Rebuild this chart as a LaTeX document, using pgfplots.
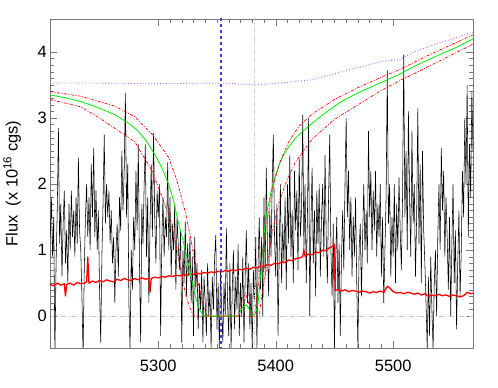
\documentclass[border=0pt]{standalone}
\usepackage{fontspec}
\setmainfont{Liberation Sans}
\usepackage{pgfplots}
\pgfplotsset{compat=1.18}

\definecolor{modgreen}{RGB}{0,240,0}
\definecolor{errred}{RGB}{255,0,0}
\definecolor{contpurple}{RGB}{175,100,255}
\definecolor{framegray}{RGB}{120,120,120}
\definecolor{refblue}{RGB}{60,60,255}

\begin{document}
\begin{tikzpicture}
\begin{axis}[
  scale only axis, width=423bp, height=329bp,
  xmin=5208, xmax=5568, ymin=-0.48, ymax=4.5,
  xtick={5300,5400,5500}, ytick={0,1,2,3,4},
  minor x tick num=9, minor y tick num=9,
  tick align=inside, major tick length=7bp, minor tick length=4bp,
  axis line style={framegray}, every tick/.style={framegray},
  tick label style={font=\fontsize{16.5}{18}\selectfont},
  xticklabel style={yshift=-9bp},
  /pgf/number format/assume math mode=true,
  /pgf/number format/1000 sep={},
  ylabel={Flux\ \ (x 10\textsuperscript{16} cgs)},
  ylabel style={font=\fontsize{16.5}{18}\selectfont, at={(axis description cs:-0.09,0.5)}, anchor=center},
]
% zero level
\addplot[gray!45, dash pattern=on 5pt off 2pt on 1pt off 2pt, line width=0.5pt] coordinates {(5200,0) (5580,0)};

% observed spectrum
\addplot[black, line width=0.55pt] coordinates {
(5208,1.2)(5209,1.8)(5210,0.9)(5211,1.5)(5212,-0.6)(5213,0.8)(5214,1.6)(5215,2.85)(5216,1.1)(5217,1.7)
(5218,0.6)(5219,1.4)(5220,1.9)(5221,0.8)(5222,1.3)(5223,0.5)(5224,1.7)(5225,1.0)(5226,1.9)(5227,1.2)
(5228,1.6)(5229,0.9)(5230,1.8)(5231,1.1)(5232,2.4)(5233,1.3)(5234,1.0)(5235,0.3)(5236,-0.6)(5237,0.7)
(5238,1.5)(5239,2.0)(5240,1.2)(5241,1.8)(5242,1.0)(5243,2.3)(5244,1.5)(5245,2.55)(5246,1.2)(5247,1.9)
(5248,1.0)(5249,1.6)(5250,0.4)(5251,-0.4)(5252,0.9)(5253,1.7)(5254,2.75)(5255,1.4)(5256,2.0)(5257,1.5)
(5258,1.9)(5259,1.1)(5260,1.6)(5261,0.8)(5262,1.2)(5263,0.2)(5264,1.0)(5265,1.4)(5266,0.6)(5267,1.8)
(5268,1.3)(5269,2.5)(5270,1.6)(5271,2.2)(5272,3.38)(5273,1.5)(5274,2.3)(5275,0.2)(5276,-0.5)(5277,1.0)
(5278,0.4)(5279,1.5)(5280,1.0)(5281,2.2)(5282,1.3)(5283,2.6)(5284,0.8)(5285,-0.4)(5286,1.7)(5287,1.1)
(5288,2.0)(5289,2.6)(5290,0.9)(5291,1.8)(5292,0.2)(5293,1.4)(5294,2.3)(5295,1.2)(5296,2.78)(5297,1.5)
(5298,0.8)(5299,1.9)(5300,1.5)(5301,2.0)(5302,-0.3)(5303,1.1)(5304,1.8)(5305,0.9)(5306,1.5)(5307,1.2)
(5308,2.33)(5309,1.0)(5310,1.8)(5311,0.6)(5312,1.4)(5313,1.0)(5314,1.7)(5315,0.4)(5316,1.5)(5317,1.1)
(5318,0.7)(5319,1.3)(5320,-0.4)(5321,1.0)(5322,0.5)(5323,1.43)(5324,0.3)(5325,1.1)(5326,0.6)(5327,1.2)
(5328,0.2)(5329,0.9)(5330,-0.3)(5331,1.2)(5332,0.4)(5333,0.8)(5334,-0.2)(5335,0.5)(5336,0.1)(5337,0.7)
(5338,-0.4)(5339,0.6)(5340,0.2)(5341,-0.3)(5342,0.8)(5343,0.0)(5344,0.4)(5345,-0.5)(5346,0.6)(5347,0.1)
(5348,0.9)(5349,1.23)(5350,-0.2)(5351,0.5)(5352,-0.5)(5353,0.7)(5354,0.1)(5355,-0.4)(5356,0.5)(5357,0.0)
(5358,1.33)(5359,0.2)(5360,-0.3)(5361,0.8)(5362,-0.5)(5363,0.4)(5364,1.0)(5365,-0.2)(5366,0.6)(5367,0.1)
(5368,1.1)(5369,-0.3)(5370,0.5)(5371,0.0)(5372,0.9)(5373,-0.4)(5374,0.6)(5375,1.3)(5376,0.2)(5377,0.8)
(5378,-0.2)(5379,0.5)(5380,-0.5)(5381,0.7)(5382,0.2)(5383,1.2)(5384,-0.5)(5385,0.8)(5386,1.49)(5387,0.4)
(5388,1.2)(5389,0.0)(5390,1.8)(5391,0.6)(5392,2.25)(5393,1.0)(5394,0.3)(5395,1.6)(5396,0.9)(5397,2.0)
(5398,2.75)(5399,1.2)(5400,0.6)(5401,1.7)(5402,-0.3)(5403,1.0)(5404,2.0)(5405,0.5)(5406,1.4)(5407,0.8)
(5408,1.8)(5409,0.4)(5410,2.0)(5411,1.1)(5412,2.44)(5413,0.9)(5414,1.6)(5415,0.5)(5416,2.2)(5417,1.3)
(5418,1.9)(5419,0.7)(5420,2.4)(5421,1.2)(5422,1.6)(5423,3.05)(5424,1.0)(5425,2.0)(5426,0.5)(5427,1.5)
(5428,3.0)(5429,0.0)(5430,1.4)(5431,2.25)(5432,0.8)(5433,1.6)(5434,0.3)(5435,1.9)(5436,1.1)(5437,2.0)
(5438,0.6)(5439,1.5)(5440,2.0)(5441,0.9)(5442,2.44)(5443,1.2)(5444,0.5)(5445,1.8)(5446,2.75)(5447,1.0)
(5448,0.3)(5449,1.4)(5450,-0.5)(5451,0.8)(5452,1.5)(5453,0.2)(5454,1.1)(5455,-0.3)(5456,0.9)(5457,1.6)
(5458,0.7)(5459,2.0)(5460,3.0)(5461,1.5)(5462,2.2)(5463,1.0)(5464,1.8)(5465,0.6)(5466,1.5)(5467,0.9)
(5468,1.8)(5469,0.5)(5470,-0.5)(5471,1.0)(5472,1.4)(5473,0.3)(5474,1.2)(5475,2.0)(5476,1.0)(5477,1.6)
(5478,0.8)(5479,2.8)(5480,1.5)(5481,2.2)(5482,1.0)(5483,1.9)(5484,1.3)(5485,2.2)(5486,0.9)(5487,1.7)
(5488,1.2)(5489,2.0)(5490,0.6)(5491,1.5)(5492,0.2)(5493,1.0)(5494,1.8)(5495,3.72)(5496,1.4)(5497,2.0)
(5498,0.6)(5499,1.5)(5500,0.9)(5501,2.0)(5502,0.5)(5503,1.7)(5504,1.0)(5505,2.1)(5506,1.3)(5507,0.7)
(5508,1.8)(5509,3.96)(5510,1.5)(5511,2.5)(5512,1.0)(5513,3.1)(5514,1.8)(5515,0.9)(5516,2.8)(5517,1.4)
(5518,2.0)(5519,0.6)(5520,1.5)(5521,3.15)(5522,1.1)(5523,2.3)(5524,0.5)(5525,2.5)(5526,1.3)(5527,0.8)
(5528,0.2)(5529,-0.5)(5530,0.6)(5531,-0.3)(5532,0.9)(5533,0.1)(5534,-0.5)(5535,0.5)(5536,1.0)(5537,0.0)
(5538,1.2)(5539,2.0)(5540,1.0)(5541,2.55)(5542,1.6)(5543,2.2)(5544,0.9)(5545,1.8)(5546,1.2)(5547,0.4)
(5548,1.5)(5549,0.0)(5550,1.1)(5551,2.0)(5552,0.5)(5553,1.3)(5554,-0.2)(5555,0.8)(5556,1.6)(5557,0.3)
(5558,1.0)(5559,2.2)(5560,1.5)(5561,3.0)(5562,2.0)(5563,3.5)(5564,1.2)(5565,2.6)(5566,1.8)(5567,3.4)
(5568,2.5)
};

% error spectrum
\addplot[errred, line width=1.3pt] coordinates {
(5208,0.48)(5211,0.46)(5214,0.50)(5217,0.47)(5220,0.49)(5221,0.30)(5222,0.48)(5225,0.50)(5228,0.47)(5231,0.51)
(5234,0.49)(5237,0.50)(5239,0.52)(5240,0.90)(5241,0.50)(5244,0.53)(5247,0.51)(5250,0.54)(5253,0.52)(5256,0.55)
(5259,0.53)(5262,0.52)(5265,0.56)(5268,0.54)(5271,0.57)(5274,0.55)(5277,0.54)(5280,0.57)(5283,0.55)(5286,0.58)
(5289,0.56)(5292,0.57)(5293,0.36)(5294,0.57)(5297,0.59)(5300,0.58)(5303,0.60)(5306,0.59)(5309,0.61)(5312,0.60)
(5315,0.62)(5318,0.61)(5321,0.63)(5324,0.62)(5327,0.64)(5330,0.63)(5333,0.65)(5336,0.64)(5339,0.66)(5342,0.65)
(5345,0.67)(5348,0.66)(5351,0.68)(5354,0.67)(5357,0.69)(5360,0.68)(5363,0.70)(5366,0.69)(5369,0.71)(5372,0.70)
(5375,0.73)(5378,0.71)(5381,0.74)(5384,0.73)(5387,0.76)(5390,0.75)(5393,0.78)(5396,0.77)(5399,0.80)(5402,0.79)
(5405,0.82)(5408,0.81)(5411,0.85)(5414,0.84)(5417,0.87)(5420,0.88)(5423,0.90)(5424,1.00)(5425,0.91)(5428,0.94)
(5431,0.93)(5434,0.97)(5437,0.96)(5440,1.00)(5443,0.99)(5446,1.04)(5449,1.06)(5450,1.08)(5450.5,0.39)(5453,0.40)
(5456,0.38)(5459,0.40)(5462,0.37)(5465,0.39)(5468,0.38)(5471,0.36)(5474,0.38)(5477,0.37)(5480,0.35)(5483,0.37)
(5486,0.36)(5489,0.38)(5492,0.36)(5495,0.45)(5497,0.43)(5500,0.37)(5503,0.35)(5506,0.36)(5509,0.34)(5512,0.36)
(5515,0.35)(5518,0.33)(5521,0.35)(5524,0.32)(5527,0.34)(5530,0.30)(5533,0.32)(5536,0.31)(5539,0.33)(5542,0.31)
(5545,0.32)(5548,0.30)(5551,0.32)(5554,0.31)(5557,0.29)(5560,0.31)(5563,0.36)(5566,0.34)(5568,0.35)
};

% continuum (dotted)
\addplot[contpurple, dotted, line width=0.9pt] coordinates {
(5208,3.53)(5250,3.53)(5300,3.52)(5354,3.53)(5383,3.50)(5410,3.54)(5431,3.58)(5460,3.72)(5491,3.86)(5505,3.88)(5520,4.02)(5545,4.17)(5568,4.30)
};

% model
\addplot[modgreen, line width=0.8pt] coordinates {
(5208,3.35)(5220,3.31)(5234,3.25)(5250,3.15)(5263,3.05)(5275,2.92)(5283,2.8)(5290,2.65)(5297,2.45)(5303,2.25)
(5309,1.99)(5313,1.75)(5317,1.43)(5320,1.22)(5323,1.0)(5326,0.76)(5329,0.5)(5332,0.27)(5335,0.1)(5338,0.02)
(5340,0)(5368,0)(5370,0.08)(5372,0.14)(5375,0.17)(5377,0.12)(5379,0.03)(5380,0)(5383,0.05)(5385,0.2)
(5387,0.6)(5389,1.0)(5391,1.4)(5393,1.62)(5396,1.88)(5399,2.08)(5403,2.3)(5407,2.45)(5411,2.56)(5417,2.7)
(5423,2.8)(5431,2.92)(5440,3.05)(5456,3.25)(5470,3.38)(5485,3.5)(5505,3.66)(5520,3.8)(5537,3.94)(5555,4.08)(5568,4.2)
};

% model bounds
\addplot[errred, line width=0.7pt, dash pattern=on 3pt off 1.5pt on 1pt off 1.5pt] coordinates {
(5208,3.40)(5234,3.33)(5263,3.18)(5280,3.02)(5295,2.75)(5309,2.4)(5316,2.05)(5323,1.58)(5328,1.15)(5331,0.82)
(5334,0.5)(5337,0.27)(5340,0.06)(5342,0)(5368,0)(5371,0.2)(5374,0.35)(5377,0.2)(5379,0)(5382,0)
(5384,0.3)(5387,0.75)(5391,1.23)(5397,1.94)(5404,2.35)(5411,2.64)(5420,2.88)(5431,3.06)(5450,3.28)(5470,3.46)
(5490,3.62)(5505,3.73)(5530,3.95)(5568,4.26)
};
\addplot[errred, line width=0.7pt, dash pattern=on 3pt off 1.5pt on 1pt off 1.5pt] coordinates {
(5208,3.28)(5234,3.17)(5250,3.0)(5265,2.82)(5280,2.64)(5295,2.19)(5309,1.53)(5315,1.1)(5320,0.62)(5323,0.35)
(5326,0.17)(5329,0.04)(5331,0)(5386,0)(5388,0.3)(5391,0.6)(5394,0.93)(5398,1.35)(5403,1.73)(5410,2.08)
(5417,2.34)(5431,2.68)(5450,2.98)(5470,3.2)(5490,3.42)(5505,3.56)(5530,3.78)(5568,4.12)
};

% reference wavelengths
\addplot[refblue, line width=1.2pt, dashed] coordinates {(5353.5,-0.6) (5353.5,4.6)};
\addplot[gray!40, line width=0.6pt, dash pattern=on 4pt off 1.5pt on 1pt off 1.5pt on 1pt off 1.5pt] coordinates {(5381.6,-0.6) (5381.6,4.6)};
\end{axis}
\path ([xshift=-50bp,yshift=-40bp]current axis.south west) rectangle ([xshift=25bp,yshift=19bp]current axis.north east);
\end{tikzpicture}
\end{document}
